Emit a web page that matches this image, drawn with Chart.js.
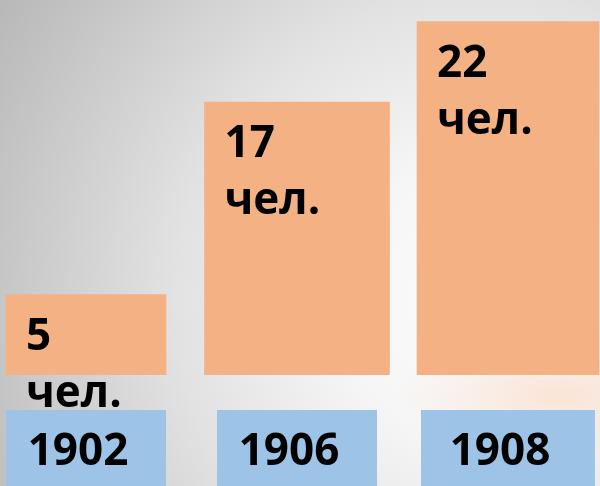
<!DOCTYPE html>
<html>
<head>
<meta charset="utf-8">
<script src="https://cdn.jsdelivr.net/npm/chart.js@4.4.1/dist/chart.umd.min.js"></script>
<style>
  html, body { margin: 0; padding: 0; }
  #wrap {
    width: 600px;
    height: 486px;
    position: relative;
    background:
      radial-gradient(ellipse 160px 70px at 560px 395px, rgba(251, 224, 206, 0.8), rgba(251, 224, 206, 0)),
      radial-gradient(circle 580px at 480px 300px, #fbfbfb 0px, #f6f6f6 140px, #e2e2e2 305px, #b7b7b7 570px);
  }
</style>
</head>
<body>
<div id="wrap"><canvas id="chart" width="600" height="486"></canvas></div>
<script>
// data
const years = ['1902', '1906', '1908'];
const people = [5, 17, 22];
const unit = 'чел.';

// styles
const orange = '#F4B183';
const blue = '#9DC3E6';
const barWidths = [160, 185, 182];
const boxWidths = [160, 160, 174];
const labelFont = 'bold 44px "Open Sans"';

// labels inside the bars: value on the first line, unit below
const barLabels = {
  id: 'barLabels',
  afterDatasetsDraw(chart) {
    const ctx = chart.ctx;
    ctx.save();
    ctx.font = labelFont;
    ctx.fillStyle = '#000';
    ctx.textAlign = 'left';
    ctx.textBaseline = 'alphabetic';
    chart.data.datasets.forEach((ds, i) => {
      const bar = chart.getDatasetMeta(i).data[0];
      const left = bar.x - bar.width / 2 + 20;
      ctx.fillText(String(people[i]), left, bar.y + 55);
      ctx.fillText(unit, left, bar.y + 112);
    });
    ctx.restore();
  }
};

// year boxes under the bars
const yearBoxes = {
  id: 'yearBoxes',
  afterDatasetsDraw(chart) {
    const ctx = chart.ctx;
    const xs = chart.scales.x;
    const top = chart.chartArea.bottom + 35;
    ctx.save();
    years.forEach((y, i) => {
      const cx = xs.getPixelForValue(i);
      ctx.fillStyle = blue;
      ctx.fillRect(cx - boxWidths[i] / 2, top, boxWidths[i], chart.height - top);
      ctx.fillStyle = '#000';
      ctx.font = labelFont;
      ctx.textAlign = 'center';
      ctx.fillText(y, cx - 8, top + 55);
    });
    ctx.restore();
  }
};

new Chart(document.getElementById('chart'), {
  type: 'bar',
  data: {
    datasets: people.map((v, i) => ({
      label: years[i],
      data: [{ x: i, y: v }],
      backgroundColor: orange,
      barThickness: barWidths[i],
      grouped: false
    }))
  },
  options: {
    responsive: false,
    animation: false,
    layout: { padding: { left: 0, right: 0, top: 0, bottom: 111 } },
    plugins: {
      legend: { display: false },
      tooltip: { enabled: false }
    },
    scales: {
      x: { type: 'linear', min: -0.4076, max: 2.436, offset: false, display: false },
      y: { min: 0, max: 23.35, display: false }
    }
  },
  plugins: [barLabels, yearBoxes]
});
</script>
</body>
</html>
